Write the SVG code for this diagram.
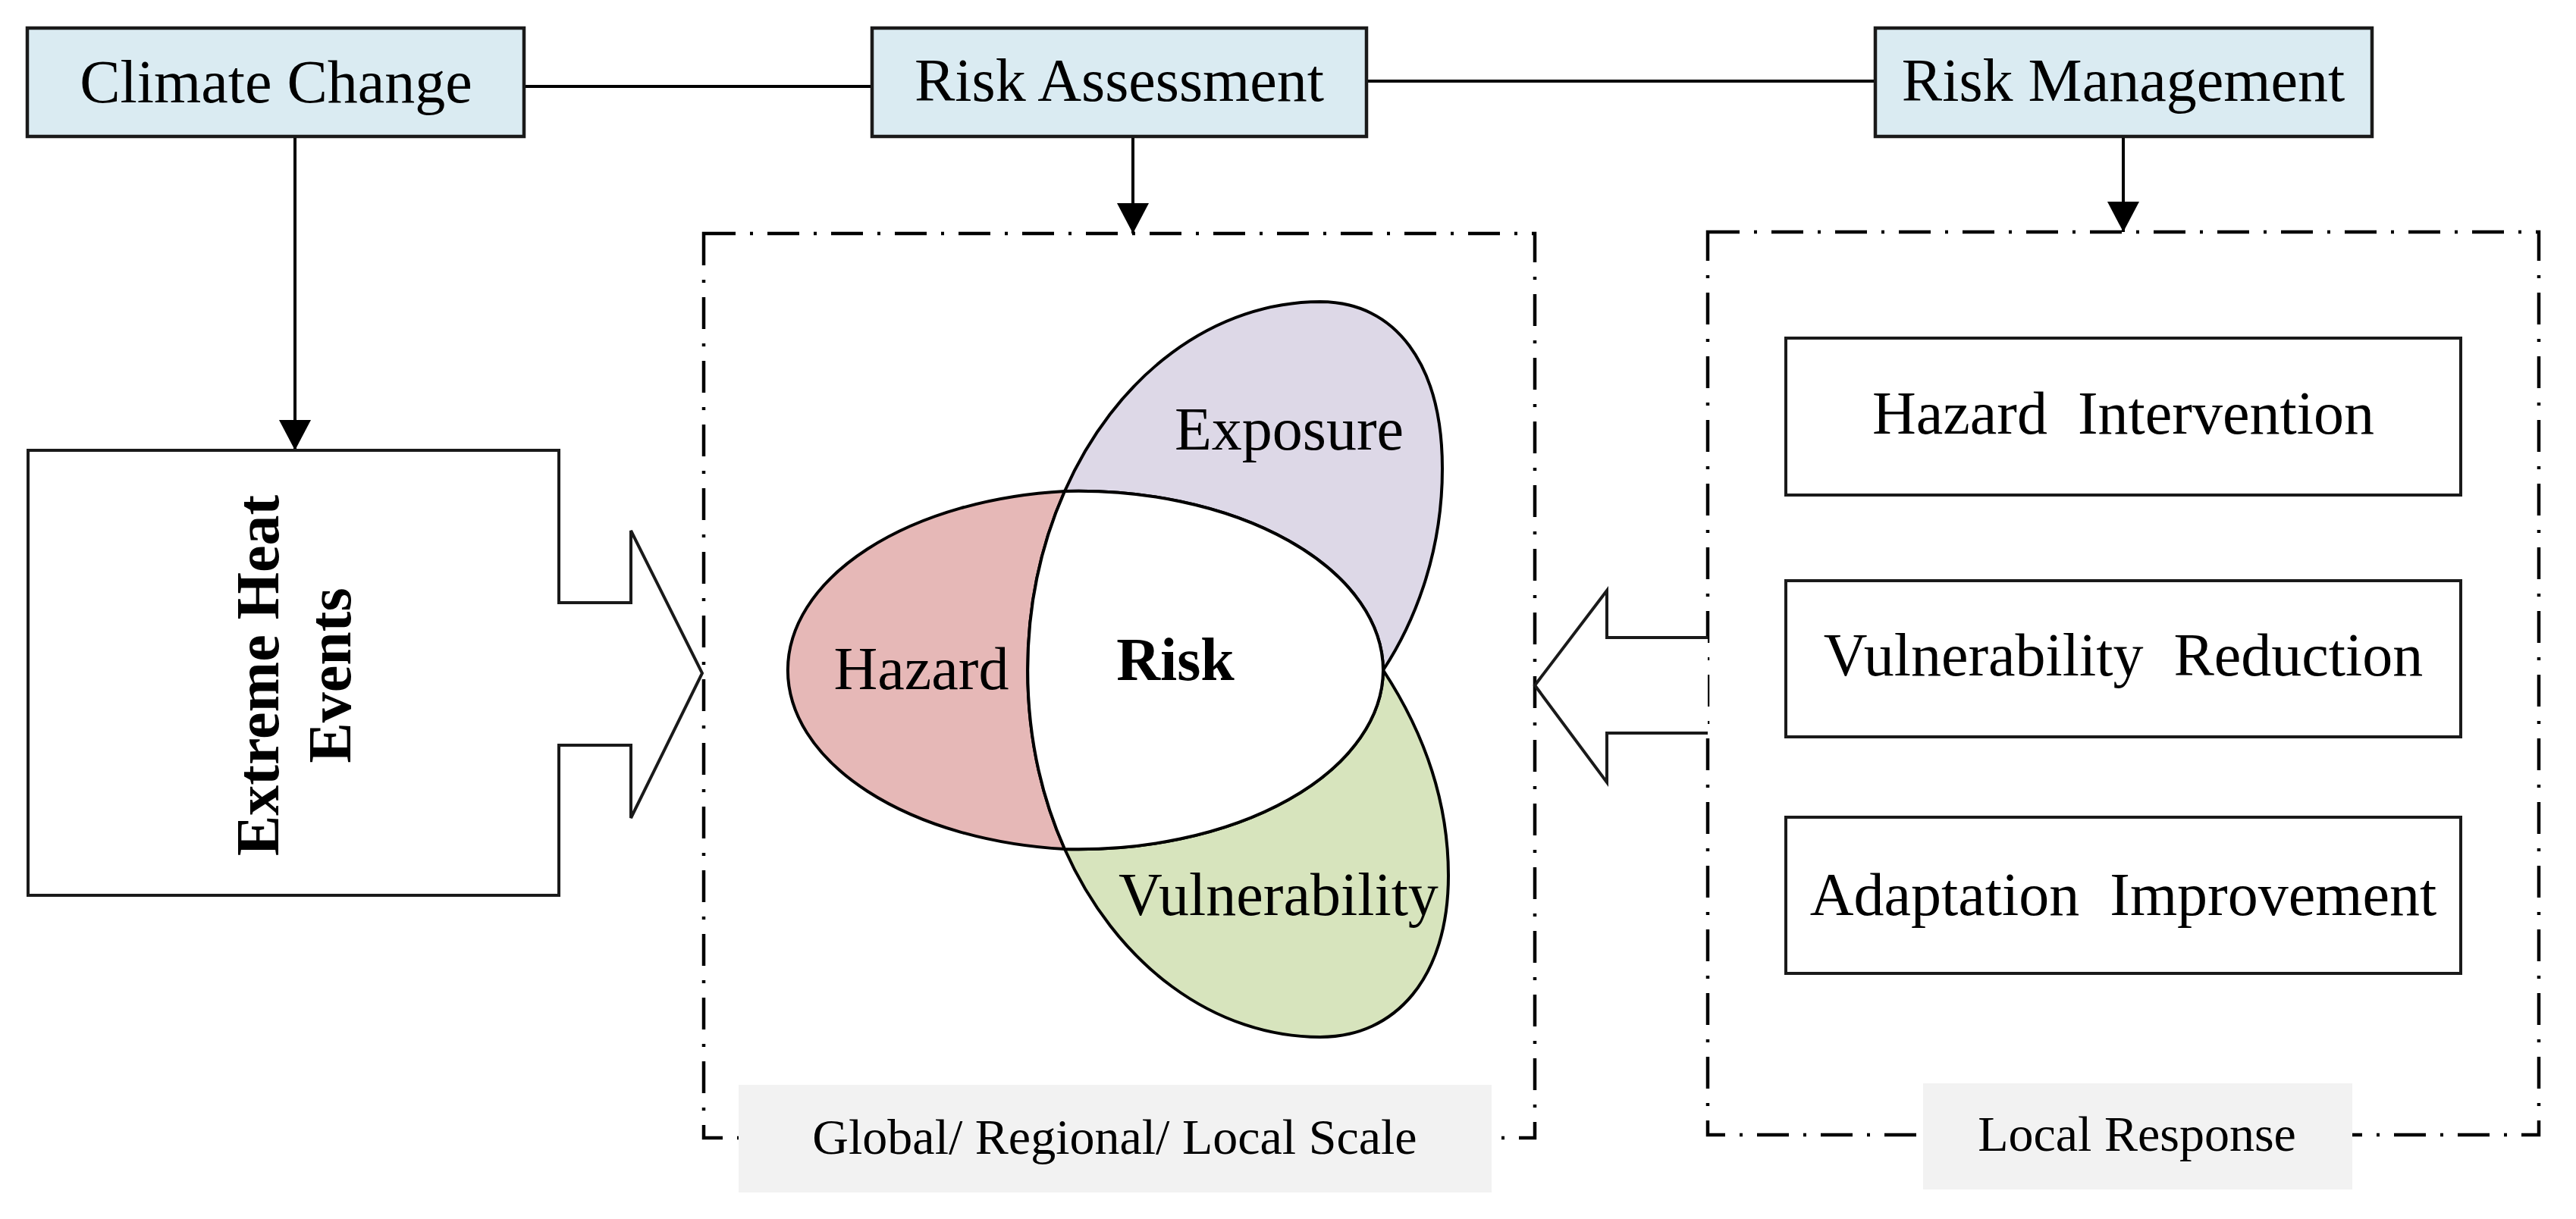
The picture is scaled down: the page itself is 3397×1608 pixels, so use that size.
<svg xmlns="http://www.w3.org/2000/svg" width="3397" height="1608" viewBox="0 0 3397 1608">
<defs>
<style>
.t{font-family:"Liberation Serif","Times New Roman",serif;font-size:80px;fill:#000;}
.tc{text-anchor:middle;}
.b{font-weight:bold;}
.lbl{font-family:"Liberation Serif","Times New Roman",serif;font-size:66px;fill:#000;text-anchor:middle;}
.top{fill:#DAEBF2;stroke:#1a1a1a;stroke-width:4.5;}
.box{fill:#fff;stroke:#1a1a1a;stroke-width:4;}
.dd{fill:none;stroke:#000;stroke-width:4.5;stroke-dasharray:42 19 4 19;}
.gray{fill:#F2F2F2;stroke:none;}
.ln{fill:none;stroke:#000;stroke-width:4;}
.venn{stroke:#000;stroke-width:4;stroke-linejoin:round;}
</style>
<marker id="ah" viewBox="0 0 40 42" refX="40" refY="21" markerWidth="40" markerHeight="42" markerUnits="userSpaceOnUse" orient="auto">
<path d="M0,0 L40,21 L0,42 Z" fill="#000"/>
</marker>
</defs>
<rect width="3397" height="1608" fill="#fff"/>

<g id="scale-frame">
<rect class="dd" x="928" y="308" width="1096" height="1193"/>
<rect class="gray" x="974" y="1431" width="993" height="142"/>
<text class="lbl" x="1470" y="1522">Global/ Regional/ Local Scale</text>
</g>

<g id="response-frame">
<rect class="dd" x="2252" y="306" width="1096" height="1191"/>
<rect class="gray" x="2536" y="1429" width="566" height="140"/>
<text class="lbl" x="2818" y="1518">Local Response</text>
</g>

<g id="connectors">
<line class="ln" x1="691" y1="114" x2="1150" y2="114"/>
<line class="ln" x1="1802" y1="107" x2="2473" y2="107"/>
<line class="ln" x1="389" y1="180" x2="389" y2="594" marker-end="url(#ah)"/>
<line class="ln" x1="1494" y1="182" x2="1494" y2="308" marker-end="url(#ah)"/>
<line class="ln" x1="2800" y1="182" x2="2800" y2="306" marker-end="url(#ah)"/>
</g>

<g id="climate-change">
<rect class="top" x="36" y="37" width="655" height="143"/>
<text class="t tc" x="364" y="135">Climate Change</text>
</g>
<g id="risk-assessment">
<rect class="top" x="1150" y="37" width="652" height="143"/>
<text class="t tc" x="1476" y="133">Risk Assessment</text>
</g>
<g id="risk-management">
<rect class="top" x="2473" y="37" width="655" height="143"/>
<text class="t tc" x="2800" y="133">Risk Management</text>
</g>

<g id="extreme-heat-events">
<path class="box" d="M37,594 L737,594 L737,795 L832,795 L832,700 L926,888 L832,1079 L832,983 L737,983 L737,1181 L37,1181 Z"/>
<text class="t tc b" transform="translate(367,891) rotate(-90)">Extreme Heat</text>
<text class="t tc b" transform="translate(462,891) rotate(-90)">Events</text>
</g>

<g id="response-arrow">
<path class="box" d="M2252,841 L2119,841 L2119,779 L2024,904 L2119,1032 L2119,967 L2252,967"/>
</g>

<g id="hazard">
<path class="venn" fill="#E6B8B7" d="M1404,648 A402,237 0 0 0 1404,1120 A386,485 0 0 1 1404,648 Z"/>
<text class="t tc" x="1215" y="909">Hazard</text>
</g>
<g id="exposure">
<path class="venn" fill="#DDD8E7" d="M1741,398 A386,485 0 0 0 1404,648 A402,237 0 0 1 1824,884 C1862,826 1902,735 1902,618 C1902,480 1840,398 1741,398 Z"/>
<text class="t tc" x="1700" y="593">Exposure</text>
</g>
<g id="vulnerability">
<path class="venn" fill="#D7E4BD" d="M1404,1120 A402,237 0 0 0 1824,884 C1862,942 1910,1035 1910,1155 C1910,1290 1840,1368 1741,1368 A386,485 0 0 1 1404,1120 Z"/>
<text class="t tc" x="1686" y="1207">Vulnerability</text>
</g>
<g id="risk">
<path class="venn" fill="#fff" d="M1404,648 A402,237 0 0 1 1824,884 A402,237 0 0 1 1404,1120 A386,485 0 0 1 1404,648 Z"/>
<text class="t tc b" x="1550" y="897">Risk</text>
</g>

<g id="hazard-intervention">
<rect class="box" x="2355" y="446" width="890" height="207"/>
<text class="t tc" x="2800" y="572">Hazard&#160; Intervention</text>
</g>
<g id="vulnerability-reduction">
<rect class="box" x="2355" y="766" width="890" height="206"/>
<text class="t tc" x="2800" y="891">Vulnerability&#160; Reduction</text>
</g>
<g id="adaptation-improvement">
<rect class="box" x="2355" y="1078" width="890" height="206"/>
<text class="t tc" x="2800" y="1207">Adaptation&#160; Improvement</text>
</g>
</svg>
